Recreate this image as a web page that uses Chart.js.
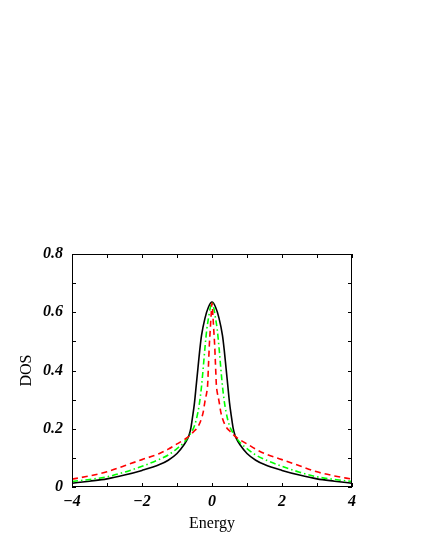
<!DOCTYPE html>
<html>
<head>
    <title>DOS vs Energy</title>
    <script src="https://cdn.jsdelivr.net/npm/chart.js"></script>
    <style>
        html, body { margin: 0; padding: 0; background: #fff; }
        #wrap { width: 425px; height: 550px; }
    </style>
</head>
<body>
    <div id="wrap"><canvas id="dosChart" width="425" height="550"></canvas></div>

    <script>
        // values
        const blackE   = [-4, -3.5, -3, -2.5, -2, -1.5, -1.25, -1, -0.8, -0.7, -0.65, -0.6, -0.55, -0.5, -0.45, -0.4, -0.35, -0.3, -0.2, -0.1, 0,
                          0.1, 0.2, 0.3, 0.35, 0.4, 0.45, 0.5, 0.55, 0.6, 0.65, 0.7, 0.8, 1, 1.25, 1.5, 2, 2.5, 3, 3.5, 4];
        const blackDos = [0.013, 0.02, 0.028, 0.041, 0.057, 0.077, 0.092, 0.115, 0.145, 0.165, 0.18, 0.205, 0.245, 0.29, 0.35, 0.41, 0.47, 0.52, 0.58, 0.618, 0.635,
                          0.618, 0.58, 0.52, 0.47, 0.41, 0.35, 0.29, 0.245, 0.205, 0.18, 0.165, 0.145, 0.115, 0.092, 0.077, 0.057, 0.041, 0.028, 0.02, 0.013];

        const greenE   = [-4, -3.5, -3, -2.5, -2, -1.5, -1.25, -1, -0.8, -0.7, -0.6, -0.5, -0.4, -0.35, -0.3, -0.25, -0.2, -0.15, -0.1, -0.05, 0,
                          0.05, 0.1, 0.15, 0.2, 0.25, 0.3, 0.35, 0.4, 0.5, 0.6, 0.7, 0.8, 1, 1.25, 1.5, 2, 2.5, 3, 3.5, 4];
        const greenDos = [0.019, 0.026, 0.035, 0.051, 0.071, 0.095, 0.11, 0.132, 0.153, 0.168, 0.186, 0.21, 0.258, 0.295, 0.345, 0.41, 0.48, 0.54, 0.58, 0.615, 0.633,
                          0.615, 0.58, 0.54, 0.48, 0.41, 0.345, 0.295, 0.258, 0.21, 0.186, 0.168, 0.153, 0.132, 0.11, 0.095, 0.071, 0.051, 0.035, 0.026, 0.019];

        const redE   = [-4, -3.5, -3, -2.5, -2, -1.5, -1.25, -1, -0.8, -0.7, -0.6, -0.5, -0.4, -0.3, -0.25, -0.2, -0.15, -0.125, -0.1, -0.075, -0.05, -0.025, 0,
                        0.025, 0.05, 0.075, 0.1, 0.125, 0.15, 0.2, 0.25, 0.3, 0.4, 0.5, 0.6, 0.7, 0.8, 1, 1.25, 1.5, 2, 2.5, 3, 3.5, 4];
        const redDos = [0.027, 0.038, 0.052, 0.073, 0.094, 0.115, 0.13, 0.148, 0.162, 0.17, 0.181, 0.193, 0.207, 0.235, 0.258, 0.295, 0.325, 0.35, 0.42, 0.49, 0.54, 0.59, 0.632,
                        0.59, 0.54, 0.49, 0.42, 0.35, 0.325, 0.295, 0.258, 0.235, 0.207, 0.193, 0.181, 0.17, 0.162, 0.148, 0.13, 0.115, 0.094, 0.073, 0.052, 0.038, 0.027];

        const xTicks = [-4, -2, 0, 2, 4];
        const xMinor = [-3, -1, 1, 3];
        const yTicks = [0, 0.2, 0.4, 0.6, 0.8];
        const yMinor = [0.1, 0.3, 0.5, 0.7];

        function pts(xs, ys) {
            return xs.map((x, i) => ({ x: x, y: ys[i] }));
        }

        function fmt(v) {
            if (Math.abs(v) < 1e-9) return '0';
            const s = Number.isInteger(v) ? String(Math.abs(v)) : Math.abs(v).toFixed(1);
            return (v < 0 ? '\u2212' : '') + s;
        }

        // frame on all four sides + inward ticks
        const frameTicks = {
            id: 'frameTicks',
            afterDraw(chart) {
                const c = chart.ctx, a = chart.chartArea;
                const xs = chart.scales.x, ys = chart.scales.y;
                const len = 4;
                c.save();
                c.strokeStyle = '#000';
                c.lineWidth = 1;
                c.strokeRect(a.left + 0.5, a.top + 0.5, a.right - a.left - 1, a.bottom - a.top - 1);
                c.beginPath();
                xTicks.concat(xMinor).forEach(v => {
                    const px = Math.round(xs.getPixelForValue(v)) + 0.5;
                    c.moveTo(px, a.bottom); c.lineTo(px, a.bottom - len);
                    c.moveTo(px, a.top); c.lineTo(px, a.top + len);
                });
                yTicks.concat(yMinor).forEach(v => {
                    const py = Math.round(ys.getPixelForValue(v)) + 0.5;
                    c.moveTo(a.left, py); c.lineTo(a.left + len, py);
                    c.moveTo(a.right, py); c.lineTo(a.right - len, py);
                });
                c.stroke();
                c.restore();
            }
        };

        const tickFont = { family: 'Liberation Serif', size: 16, weight: 'bold', style: 'italic' };
        const titleFont = { family: 'Liberation Serif', size: 16 };

        const ctx = document.getElementById('dosChart').getContext('2d');
        new Chart(ctx, {
            type: 'scatter',
            data: {
                datasets: [
                    { label: 'black', data: pts(blackE, blackDos), borderColor: '#000000', borderWidth: 1.6, order: 3 },
                    { label: 'green', data: pts(greenE, greenDos), borderColor: '#00ff00', borderWidth: 1.6, borderDash: [6, 3, 1.5, 3], order: 2 },
                    { label: 'red', data: pts(redE, redDos), borderColor: '#ff0000', borderWidth: 1.6, borderDash: [6, 4], order: 1 }
                ].map(d => Object.assign(d, { showLine: true, pointRadius: 0, cubicInterpolationMode: 'monotone', fill: false }))
            },
            options: {
                responsive: false,
                animation: false,
                layout: { padding: { top: 254, right: 73, bottom: 17, left: 0 } },
                plugins: { legend: { display: false }, tooltip: { enabled: false } },
                scales: {
                    x: {
                        type: 'linear', min: -4, max: 4,
                        afterBuildTicks: s => { s.ticks = xTicks.map(v => ({ value: v })); },
                        afterFit: s => { s.height = 46; },
                        grid: { display: false, drawTicks: false },
                        border: { display: false },
                        ticks: { color: '#000', font: tickFont, padding: 5, maxRotation: 0, callback: v => fmt(v) },
                        title: { display: true, text: 'Energy', color: '#000', font: titleFont, padding: { top: 0, bottom: 0 } }
                    },
                    y: {
                        type: 'linear', min: 0, max: 0.8,
                        afterBuildTicks: s => { s.ticks = yTicks.map(v => ({ value: v })); },
                        afterFit: s => { s.width = 72; },
                        grid: { display: false, drawTicks: false },
                        border: { display: false },
                        ticks: { color: '#000', font: tickFont, padding: 9, callback: v => fmt(v) },
                        title: { display: true, text: 'DOS', color: '#000', font: titleFont, padding: { top: 17, bottom: 0 } }
                    }
                }
            },
            plugins: [frameTicks]
        });
    </script>
</body>
</html>
